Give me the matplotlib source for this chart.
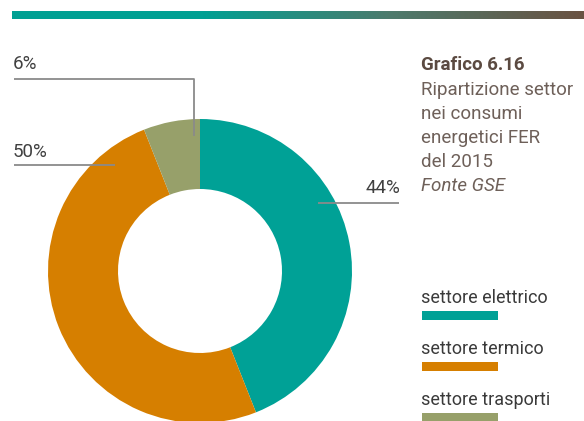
import numpy as np
import matplotlib.pyplot as plt
from matplotlib.colors import LinearSegmentedColormap

# Data
sectors = ['settore elettrico', 'settore termico', 'settore trasporti']
shares = [44, 50, 6]
colors = ['#00a196', '#d67f00', '#97a06a']
pct_labels = ['44%', '50%', '6%']

title = 'Grafico 6.16'
subtitle = ['Ripartizione settor', 'nei consumi', 'energetici FER', 'del 2015']
source = 'Fonte GSE'

W, H = 584, 421
plt.rcParams['font.family'] = ['Roboto', 'DejaVu Sans']

fig = plt.figure(figsize=(W / 100, H / 100), dpi=100)
ax = fig.add_axes([0, 0, 1, 1])

# Donut (pixel coords, y flipped)
cx, cy, r = 200, H - 271, 152
ax.pie(shares, colors=colors, startangle=90, counterclock=False,
       center=(cx, cy), radius=r,
       wedgeprops=dict(width=r - 82, edgecolor='none'))

# Gradient bar on top
grad = LinearSegmentedColormap.from_list('bar', ['#00a093', '#00a093', '#4e7a6c', '#6a5242'])
ax.imshow(np.linspace(0, 1, 256).reshape(1, -1), cmap=grad, aspect='auto',
          extent=(12, W, H - 19, H - 11), zorder=3)

# Leader lines and percentage labels
line_kw = dict(color='#8a8a8a', lw=1.3, solid_capstyle='butt')
txt_kw = dict(fontsize=13.5, color='#404040')
ax.plot([14, 194, 194], [H - 79, H - 79, H - 136], **line_kw)
ax.text(13, H - 64, pct_labels[2], va='center', ha='left', **txt_kw)
ax.plot([14, 115], [H - 165, H - 165], **line_kw)
ax.text(13, H - 152, pct_labels[1], va='center', ha='left', **txt_kw)
ax.plot([318, 399], [H - 203, H - 203], **line_kw)
ax.text(400, H - 188, pct_labels[0], va='center', ha='right', **txt_kw)

# Title block
ax.text(421, H - 65, title, fontsize=13.5, fontweight='bold', color='#5b4a41', va='center')
for i, line in enumerate(subtitle):
    ax.text(421, H - 90 - i * 24, line, fontsize=13.5, color='#6e6059', va='center')
ax.text(421, H - 90 - len(subtitle) * 24, source, fontsize=13.5, color='#6e6059',
        style='italic', va='center')

# Legend
leg_y = [298, 349, 400]
for name, col, y in zip(sectors, colors, leg_y):
    ax.text(421, H - y, name, fontsize=13, color='#3a3a3a', va='center')
    ax.fill_between([422, 498], H - y - 22, H - y - 13, color=col, lw=0)

ax.set_xlim(0, W)
ax.set_ylim(0, H)
ax.set_aspect('auto')
ax.axis('off')

fig.savefig('out.png', dpi=100)
